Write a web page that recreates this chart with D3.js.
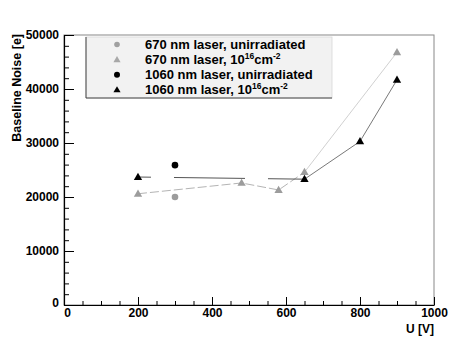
<!DOCTYPE html>
<html>
<head>
<meta charset="utf-8">
<script src="https://cdn.jsdelivr.net/npm/d3@7"></script>
<style>
  body { margin: 0; background: #fff; }
  svg text { font-family: "Liberation Sans", Arial, sans-serif; font-weight: bold; fill: #000; }
</style>
</head>
<body>
<div id="chart"></div>
<script>
// data
let red670Irr = [[200, 20600], [480, 22600], [580, 21300], [650, 24600], [900, 46800]];
let red670Unirr = [[300, 20000]];
let ir1060Unirr = [[300, 25900]];
let ir1060Irr = [[200, 23700], [650, 23300], [800, 30300], [900, 41700]];

let xTicks = [0, 200, 400, 600, 800, 1000];
let yTicks = [0, 10000, 20000, 30000, 40000, 50000];

let width = 463, height = 340;
let margin = {left: 64, right: 29, top: 35, bottom: 35};

let svg = d3.select("#chart").append("svg")
    .attr("width", width)
    .attr("height", height);

let x = d3.scaleLinear().domain([0, 1000]).range([margin.left, width - margin.right]);
let y = d3.scaleLinear().domain([0, 50000]).range([height - margin.bottom, margin.top]);

// frame (top/right in gray)
svg.append("rect")
    .attr("x", x(0)).attr("y", y(50000))
    .attr("width", x(1000) - x(0)).attr("height", y(0) - y(50000))
    .attr("fill", "none").attr("stroke", "#888").attr("stroke-width", 1);

// minor ticks
svg.append("g")
    .attr("transform", `translate(0,${y(0)})`)
    .call(d3.axisBottom(x).tickValues(d3.range(0, 1001, 50)).tickSizeInner(-4).tickSizeOuter(0).tickFormat(""))
    .call(g => g.select(".domain").remove());
svg.append("g")
    .attr("transform", `translate(${x(0)},0)`)
    .call(d3.axisLeft(y).tickValues(d3.range(0, 50001, 2000)).tickSizeInner(-5).tickSizeOuter(0).tickFormat(""))
    .call(g => g.select(".domain").remove());

// major ticks + labels
let xAxis = svg.append("g")
    .attr("transform", `translate(0,${y(0)})`)
    .call(d3.axisBottom(x).tickValues(xTicks).tickSizeInner(-8).tickSizeOuter(0).tickPadding(3).tickFormat(d3.format("d")));
xAxis.selectAll("text").style("font-size", "12px").attr("dx", d => d === 0 ? 3 : 0);

let yAxis = svg.append("g")
    .attr("transform", `translate(${x(0)},0)`)
    .call(d3.axisLeft(y).tickValues(yTicks).tickSizeInner(-10).tickSizeOuter(0).tickPadding(5).tickFormat(d3.format("d")));
yAxis.selectAll("text").style("font-size", "12px").attr("dy", d => d === 0 ? "0.1em" : "0.32em");

svg.selectAll(".domain").attr("stroke", "#000").attr("stroke-width", 1.2);

// axis titles
svg.append("text")
    .attr("transform", `translate(21,${y(50000) - 1}) rotate(-90)`)
    .attr("text-anchor", "end")
    .style("font-size", "12.5px")
    .text("Baseline Noise [e]");
svg.append("text")
    .attr("x", x(1000)).attr("y", 333)
    .attr("text-anchor", "end")
    .style("font-size", "12px")
    .text("U [V]");

let line = d3.line().x(d => x(d[0])).y(d => y(d[1]));

// 670 nm irradiated: dashed light gray, then thin solid
svg.append("path")
    .attr("d", line(red670Irr.slice(0, 4)))
    .attr("fill", "none").attr("stroke", "#b4b4b4").attr("stroke-width", 1)
    .attr("stroke-dasharray", "9,3");
svg.append("path")
    .attr("d", line(red670Irr.slice(3)))
    .attr("fill", "none").attr("stroke", "#c4c4c4").attr("stroke-width", 0.8);

// 1060 nm irradiated: broken dark line, then solid
svg.append("path")
    .attr("d", line(ir1060Irr.slice(0, 2)))
    .attr("fill", "none").attr("stroke", "#555").attr("stroke-width", 1)
    .attr("stroke-dasharray", "13,23,71,23,40");
svg.append("path")
    .attr("d", line(ir1060Irr.slice(1)))
    .attr("fill", "none").attr("stroke", "#555").attr("stroke-width", 0.8);

let tri = d3.symbol().type(d3.symbolTriangle).size(30);

function points(data, color, shape) {
    let g = svg.append("g");
    if (shape === "circle") {
        g.selectAll("circle").data(data).enter().append("circle")
            .attr("cx", d => x(d[0])).attr("cy", d => y(d[1]))
            .attr("r", 3.3).attr("fill", color);
    } else {
        g.selectAll("path").data(data).enter().append("path")
            .attr("d", tri)
            .attr("transform", d => `translate(${x(d[0])},${y(d[1]) + 0.5})`)
            .attr("fill", color);
    }
}

points(red670Irr, "#9c9c9c", "tri");
points(red670Unirr, "#9c9c9c", "circle");
points(ir1060Unirr, "#000", "circle");
points(ir1060Irr, "#000", "tri");

// legend
let lg = svg.append("g");
lg.append("rect")
    .attr("x", 86).attr("y", 37).attr("width", 246).attr("height", 61)
    .attr("fill", "#f2f2f2").attr("stroke", "#d8d8d8").attr("stroke-width", 0.8);
lg.append("path")
    .attr("d", "M86,37V98H332")
    .attr("fill", "none").attr("stroke", "#444").attr("stroke-width", 1);

let legendItems = [
    {label: "670 nm laser, unirradiated", sup: false, color: "#a0a0a0", shape: "circle"},
    {label: "670 nm laser, 10", sup: true, color: "#a8a8a8", shape: "tri"},
    {label: "1060 nm laser, unirradiated", sup: false, color: "#000", shape: "circle"},
    {label: "1060 nm laser, 10", sup: true, color: "#000", shape: "tri"}
];

legendItems.forEach((d, i) => {
    let cy = 44.5 + i * 15.1;
    if (d.shape === "circle") {
        lg.append("circle").attr("cx", 117).attr("cy", cy).attr("r", d.color === "#000" ? 3 : 2.8).attr("fill", d.color);
    } else {
        lg.append("path").attr("d", d3.symbol().type(d3.symbolTriangle).size(22))
            .attr("transform", `translate(117,${cy + 0.5})`).attr("fill", d.color);
    }
    let t = lg.append("text").attr("x", 145).attr("y", cy + 4.5).style("font-size", "13px");
    t.append("tspan").text(d.label);
    if (d.sup) {
        t.append("tspan").style("font-size", "8.5px").attr("dy", -5).text("16");
        t.append("tspan").style("font-size", "13px").attr("dy", 5).text("cm");
        t.append("tspan").style("font-size", "8.5px").attr("dy", -5).text("-2");
    }
});
</script>
</body>
</html>
